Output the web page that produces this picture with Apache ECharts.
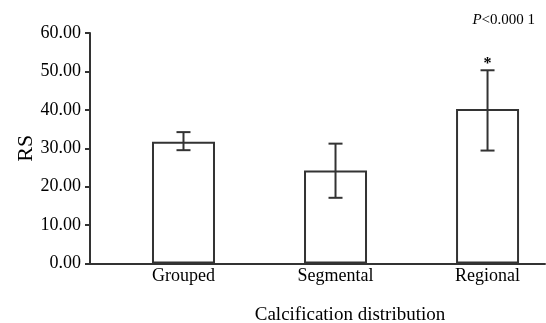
<!DOCTYPE html>
<html><head><meta charset="utf-8">
<script src="https://cdn.jsdelivr.net/npm/echarts@6/dist/echarts.min.js"></script>
<style>html,body{margin:0;padding:0;background:#fff}#c{width:546px;height:323px}</style>
</head><body><div id="c"></div>
<script>
var categories = ['Grouped', 'Segmental', 'Regional'];
var means = [31.7, 24.2, 40.2];
var errLow = [29.5, 17.1, 29.4];
var errHigh = [34.2, 31.2, 50.3];
var marks = ['', '', '*'];
var yTicks = [0, 10, 20, 30, 40, 50, 60];

var FONT = 'Liberation Serif';
var C = '#333';
var chart = echarts.init(document.getElementById('c'));
var positions = categories.map(function (_, i) { return i + 1; });

chart.setOption({
  animation: false,
  backgroundColor: '#fff',
  title: [
    { text: '{i|P}<0.000 1', right: 6, top: 8,
      textStyle: { fontFamily: FONT, fontSize: 15, fontWeight: 'normal', color: '#000',
        rich: { i: { fontFamily: FONT, fontStyle: 'italic', fontSize: 15, color: '#000' } } } },
    { text: 'Calcification distribution', left: 345, top: 301, textAlign: 'center',
      textStyle: { fontFamily: FONT, fontSize: 19, fontWeight: 'normal', color: '#000' } }
  ],
  grid: { left: 90, right: 1, top: 33, bottom: 59.5 },
  xAxis: {
    type: 'value', min: 0.385, max: 3.378,
    axisLine: { show: true, onZero: false, lineStyle: { color: C, width: 2 } },
    axisTick: { show: false },
    splitLine: { show: false },
    axisLabel: {
      customValues: positions,
      formatter: function (v) { return categories[Math.round(v) - 1] || ''; },
      fontFamily: FONT, fontSize: 18, color: '#000', margin: 4
    }
  },
  yAxis: {
    type: 'value', min: yTicks[0], max: yTicks[yTicks.length - 1], interval: 10,
    name: 'RS', nameLocation: 'middle', nameGap: 53, nameRotate: 90, nameMoveOverlap: false,
    nameTextStyle: { fontFamily: FONT, fontSize: 22, color: '#000' },
    axisLine: { show: true, lineStyle: { color: C, width: 2 } },
    axisTick: { show: true, length: 5, lineStyle: { color: C, width: 2 } },
    splitLine: { show: false },
    axisLabel: { formatter: function (v) { return v.toFixed(2); },
      fontFamily: FONT, fontSize: 18, color: '#000', margin: 9 }
  },
  series: [
    {
      type: 'bar', barWidth: 63,
      data: means.map(function (m, i) { return [positions[i], m]; }),
      itemStyle: { color: '#fff', borderColor: C, borderWidth: 2 }
    },
    {
      type: 'custom',
      data: means.map(function (m, i) { return [positions[i], errLow[i], errHigh[i], i]; }),
      renderItem: function (params, api) {
        var x = api.value(0);
        var lo = api.coord([x, api.value(1)]);
        var hi = api.coord([x, api.value(2)]);
        var hw = 7;
        var st = { stroke: C, lineWidth: 2 };
        var children = [
          { type: 'line', shape: { x1: lo[0], y1: lo[1], x2: hi[0], y2: hi[1] }, style: st },
          { type: 'line', shape: { x1: lo[0] - hw, y1: lo[1], x2: lo[0] + hw, y2: lo[1] }, style: st },
          { type: 'line', shape: { x1: hi[0] - hw, y1: hi[1], x2: hi[0] + hw, y2: hi[1] }, style: st }
        ];
        var mk = marks[api.value(3)];
        if (mk) {
          children.push({ type: 'text', x: hi[0], y: hi[1] + 2,
            style: { text: mk, fontFamily: FONT, fontSize: 16, fontWeight: 'bold', fill: '#000', align: 'center', verticalAlign: 'bottom' } });
        }
        return { type: 'group', children: children };
      },
      z: 5
    }
  ]
});
</script></body></html>
